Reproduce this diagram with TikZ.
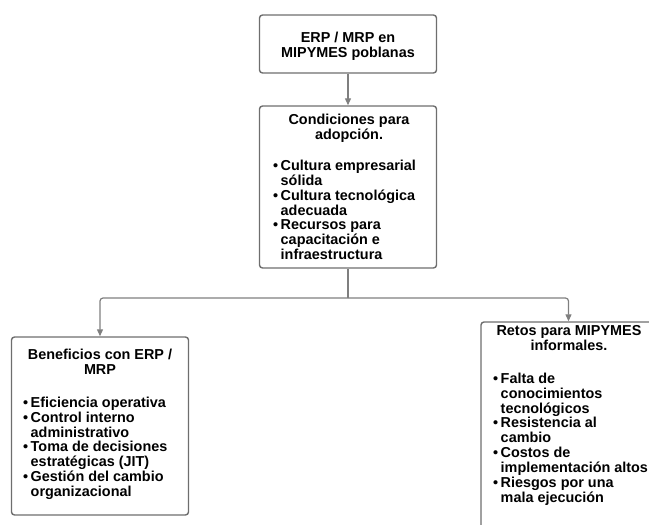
\documentclass[tikz,border=0pt]{standalone}
\usepackage{fontspec}
\setmainfont{Liberation Sans}
\usetikzlibrary{arrows.meta}
\definecolor{boxline}{HTML}{6E6E6E}
\definecolor{conline}{HTML}{7F7F7F}
\newcommand\blt{•}
\begin{document}
\begin{tikzpicture}[x=1pt,y=-1pt,
  box/.style={draw=boxline,line width=1.4pt,rounded corners=3pt,fill=white,inner sep=0pt},
  txt/.style={inner sep=0pt,font=\bfseries\fontsize{14.4}{14.7}\selectfont},
  conn/.style={draw=conline,line width=1.2pt,rounded corners=3pt},
  arr/.style={conn,-{Triangle[length=7pt,width=6pt]}}]
\useasboundingbox (0,0) rectangle (649,525);
\clip (0,0) rectangle (649,525);
% boxes
\node[box,minimum width=177pt,minimum height=58pt] (top) at (348,44) {};
\node[box,minimum width=177pt,minimum height=162pt] (cond) at (348,187) {};
\node[box,minimum width=177pt,minimum height=178pt] (ben) at (100,426) {};
\node[box,minimum width=175pt,minimum height=218pt] (retos) at (568.5,431) {};
% connectors
\coordinate (j) at (348,298);
\draw[arr] (top.south) -- (cond.north);
\draw[conn] (cond.south) -- (j);
\draw[arr] (j) -| (ben.north);
\draw[arr] (j) -| (retos.north);
% texts
\node[txt,anchor=north] (topT) at (348,31.7) {\begin{tabular}{@{}c@{}}ERP / MRP en\\MIPYMES poblanas\end{tabular}};
\node[txt,anchor=north] (condT) at (349,113.7) {\begin{tabular}{@{}c@{}}Condiciones para\\adopción.\end{tabular}};
\node[txt,anchor=north west] (condL) at (273,159.7) {\begin{tabular}{@{}l@{\hspace{2.5pt}}l@{}}
\blt & Cultura empresarial\\ & sólida\\
\blt & Cultura tecnológica\\ & adecuada\\
\blt & Recursos para\\ & capacitación e\\ & infraestructura\end{tabular}};
\node[txt,anchor=north] (benT) at (100,348.7) {\begin{tabular}{@{}c@{}}Beneficios con ERP /\\MRP\end{tabular}};
\node[txt,anchor=north west] (benL) at (23,396.7) {\begin{tabular}{@{}l@{\hspace{2.5pt}}l@{}}
\blt & Eficiencia operativa\\
\blt & Control interno\\ & administrativo\\
\blt & Toma de decisiones\\ & estratégicas (JIT)\\
\blt & Gestión del cambio\\ & organizacional\end{tabular}};
\node[txt,anchor=north] (retT) at (569,324.7) {\begin{tabular}{@{}c@{}}Retos para MIPYMES\\informales.\end{tabular}};
\node[txt,anchor=north west] (retL) at (493,372.7) {\begin{tabular}{@{}l@{\hspace{2.5pt}}l@{}}
\blt & Falta de\\ & conocimientos\\ & tecnológicos\\
\blt & Resistencia al\\ & cambio\\
\blt & Costos de\\ & implementación altos\\
\blt & Riesgos por una\\ & mala ejecución\end{tabular}};
\end{tikzpicture}
\end{document}
